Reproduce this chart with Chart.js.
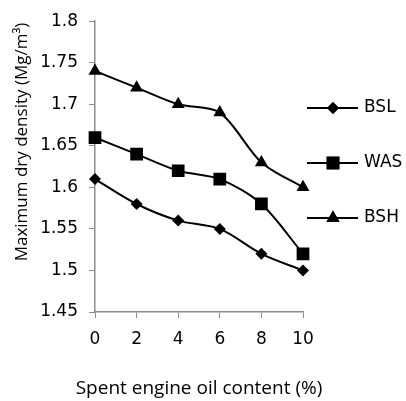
<!DOCTYPE html>
<html>
<head>
<meta charset="utf-8">
<script src="https://cdn.jsdelivr.net/npm/chart.js@4"></script>
<style>
  html, body { margin: 0; padding: 0; background: #fff; }
  #wrap { width: 406px; height: 401px; }
</style>
</head>
<body>
<div id="wrap"><canvas id="chart" width="406" height="401"></canvas></div>
<script>
// data
const oilContent = ['0', '2', '4', '6', '8', '10'];
const bslValues = [1.61, 1.58, 1.56, 1.55, 1.52, 1.50];
const wasValues = [1.66, 1.64, 1.62, 1.61, 1.58, 1.52];
const bshValues = [1.74, 1.72, 1.70, 1.69, 1.63, 1.60];
const seriesNames = ['BSL', 'WAS', 'BSH'];
const yTitle = 'Maximum dry density (Mg/m³)';
const xTitle = 'Spent engine oil content (%)';

const FONT = '"DejaVu Sans", sans-serif';
const FONT_T = '"Open Sans", sans-serif';
const axisColor = '#8c8c8c';

function makeSet(label, values, style, radius) {
    return {
        label: label,
        data: values,
        borderColor: '#000',
        backgroundColor: '#000',
        borderWidth: 2,
        pointStyle: style,
        pointRadius: radius,
        pointHoverRadius: radius,
        pointBorderWidth: 0,
        tension: 0.3,
        fill: false
    };
}

// legend on the right (line with marker) and the two axis titles
const sideLegend = {
    id: 'sideLegend',
    afterDraw(chart) {
        const ctx = chart.ctx;
        const rows = [108, 163, 218];
        ctx.save();
        chart.data.datasets.forEach((ds, i) => {
            const y = rows[i];
            ctx.strokeStyle = '#000';
            ctx.lineWidth = 2;
            ctx.beginPath();
            ctx.moveTo(307, y);
            ctx.lineTo(358, y);
            ctx.stroke();
            ctx.fillStyle = '#000';
            Chart.helpers.drawPoint(ctx, { pointStyle: ds.pointStyle, radius: ds.pointRadius, borderWidth: 0 }, 333, y);
            ctx.fill();
            ctx.font = '17px ' + FONT;
            ctx.textBaseline = 'middle';
            ctx.fillText(ds.label, 364, y);
        });
        // x axis title, centred under the plot
        const area = chart.chartArea;
        ctx.textAlign = 'center';
        ctx.textBaseline = 'middle';
        ctx.font = '19px ' + FONT_T;
        ctx.fillText(xTitle, (area.left + area.right) / 2, 389);
        // y axis title
        ctx.translate(22, 142);
        ctx.rotate(-Math.PI / 2);
        ctx.font = '17px ' + FONT_T;
        ctx.fillText(yTitle, 0, 0);
        ctx.restore();
    }
};

new Chart(document.getElementById('chart'), {
    type: 'line',
    data: {
        labels: oilContent,
        datasets: [
            makeSet(seriesNames[0], bslValues, 'rectRot', 6),
            makeSet(seriesNames[1], wasValues, 'rect', 9),
            makeSet(seriesNames[2], bshValues, 'triangle', 7.5)
        ]
    },
    options: {
        responsive: false,
        animation: false,
        layout: { padding: { left: 0, top: 20, right: 103, bottom: 0 } },
        plugins: {
            legend: { display: false },
            tooltip: { enabled: false }
        },
        scales: {
            x: {
                offset: false,
                grid: { drawOnChartArea: false, tickLength: 6, color: axisColor },
                border: { color: axisColor, width: 1.5 },
                ticks: { color: '#000', font: { family: FONT, size: 17 }, padding: 11, maxRotation: 0 },
                afterFit(scale) { scale.height = 89; }
            },
            y: {
                min: 1.45,
                max: 1.8,
                grid: { drawOnChartArea: false, tickLength: 6, color: axisColor },
                border: { color: axisColor, width: 1.5 },
                ticks: { stepSize: 0.05, color: '#000', font: { family: FONT, size: 17 }, padding: 11,
                    callback: v => Math.round(v * 100) / 100 },
                afterFit(scale) { scale.width = 95; }
            }
        }
    },
    plugins: [sideLegend]
});
</script>
</body>
</html>
